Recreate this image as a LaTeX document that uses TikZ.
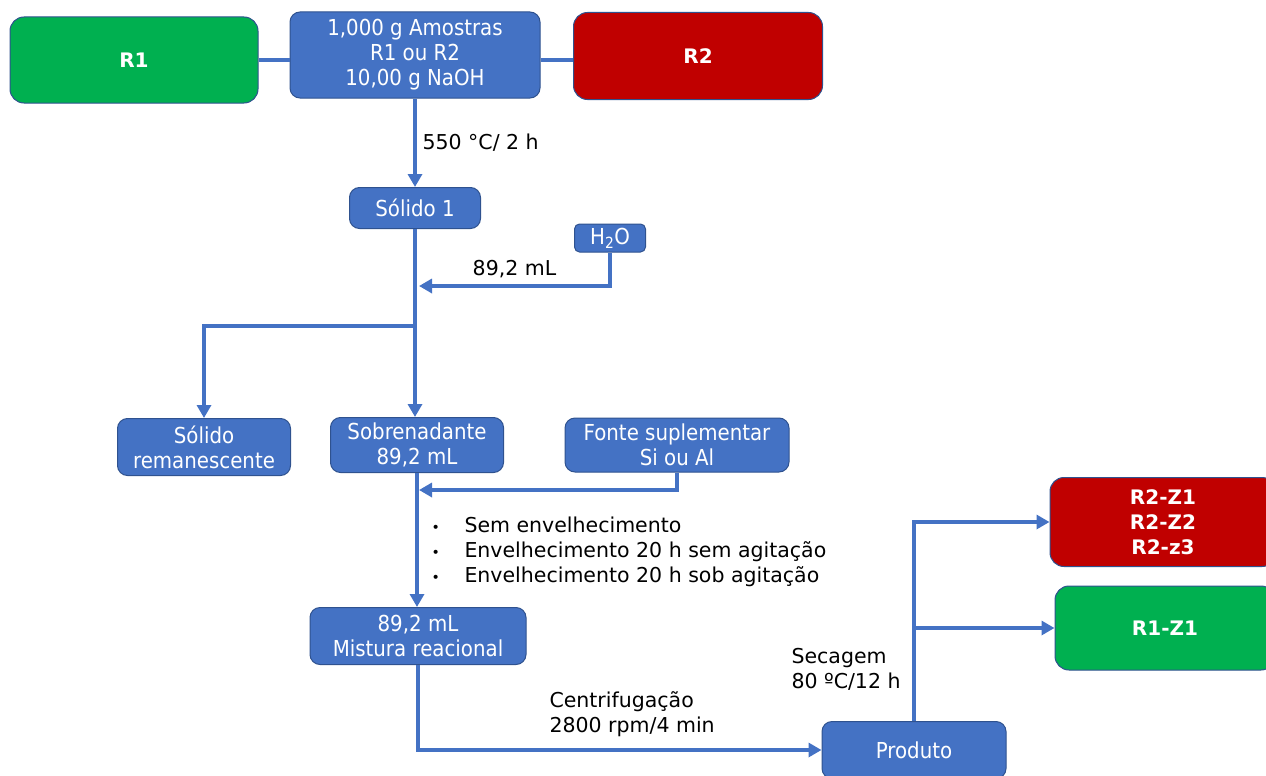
\documentclass[tikz,border=0pt]{standalone}
\usepackage{fontspec}
\setmainfont{DejaVu Sans}
\newfontfamily\boxfont{DejaVu Sans}[FakeStretch=0.9]
\usetikzlibrary{arrows.meta}
\definecolor{boxblue}{HTML}{4472C4}
\definecolor{edgeblue}{HTML}{2F528F}
\definecolor{boxgreen}{HTML}{00B050}
\definecolor{boxred}{HTML}{C00000}
\begin{document}
\begin{tikzpicture}[x=1pt,y=-1pt,>={Triangle[length=13pt,width=14pt]},
        every node/.style={font=\fontsize{20.5}{25}\selectfont},
        flow/.style={draw=boxblue,line width=4.5pt},
        main node/.style={rectangle,rounded corners=10pt,draw=edgeblue,line width=1pt,fill=boxblue,
          text=white,align=center,inner sep=0pt,font=\boxfont\fontsize{22}{25}\selectfont},
        green node/.style={main node,fill=boxgreen,rounded corners=14pt,font=\bfseries\fontsize{20}{25}\selectfont},
        red node/.style={main node,fill=boxred,rounded corners=14pt,font=\bfseries\fontsize{20}{25}\selectfont}]

      \useasboundingbox (0,0) rectangle (1266,776);

      \node[green node,minimum width=248,minimum height=86] (r1) at (134,60) {R1};
      \node[main node,minimum width=250,minimum height=86] (amostra) at (415,55) {1,000 g Amostras\\R1 ou R2\\10,00 g NaOH};
      \node[red node,minimum width=249,minimum height=87] (r2) at (698,56) {R2};
      \node[main node,minimum width=131,minimum height=41] (solido) at (415,208) {Sólido 1};
      \node[main node,minimum width=71,minimum height=28,rounded corners=5pt] (h2o) at (610,238) {H\textsubscript{2}O};
      \node[main node,minimum width=173,minimum height=57] (solrem) at (204,447) {Sólido\\remanescente};
      \node[main node,minimum width=173,minimum height=55] (sobren) at (417,445) {Sobrenadante\\89,2 mL};
      \node[main node,minimum width=224,minimum height=54] (fonte) at (677,445) {Fonte suplementar\\Si ou Al};
      \node[main node,minimum width=216,minimum height=57] (mistura) at (418,636) {89,2 mL\\Mistura reacional};
      \node[main node,minimum width=184,minimum height=57] (produto) at (914,750) {Produto};
      \node[red node,minimum width=226,minimum height=89] (r2z) at (1163,522) {R2-Z1\\R2-Z2\\R2-z3};
      \node[green node,minimum width=220,minimum height=84] (r1z) at (1165,628) {R1-Z1};

      \coordinate (split) at (416,326);
      \coordinate (join1) at (419,286);
      \coordinate (join2) at (419,490);

      \draw[flow] (r1.east) -- (amostra.west |- r1.east);
      \draw[flow] (amostra.east |- r1.east) -- (r2.west |- r1.east);
      \draw[flow,->] (amostra) -- (solido) node[midway,right=2pt,black] {550 °C/ 2 h};
      \draw[flow,->] (solido.south) -- (solido.south |- sobren.north);
      \draw[flow,->] (h2o) |- (join1) node[pos=0.75,above=3pt,black] {89,2 mL};
      \draw[flow,->] (split) -| (solrem);
      \draw[flow,->] (fonte) |- (join2);
      \draw[flow,->] (sobren) -- (sobren |- mistura.north);
      \draw[flow,->] (mistura) |- (produto);
      \draw[flow,->] (produto) |- (r2z);
      \draw[flow,->] (produto.north |- r1z) -- (r1z);

      \node[anchor=west,align=left] (bullets) at (428,552)
        {\makebox[33pt][l]{\fontsize{14}{14}\selectfont•}Sem envelhecimento\\
         \makebox[33pt][l]{\fontsize{14}{14}\selectfont•}Envelhecimento 20 h sem agitação\\
         \makebox[33pt][l]{\fontsize{14}{14}\selectfont•}Envelhecimento 20 h sob agitação};
      \node[anchor=west,align=left] (centrif) at (546,714) {Centrifugação\\2800 rpm/4 min};
      \node[anchor=west,align=left] (secagem) at (788,669) {Secagem\\80 ºC/12 h};
    \end{tikzpicture}
\end{document}
